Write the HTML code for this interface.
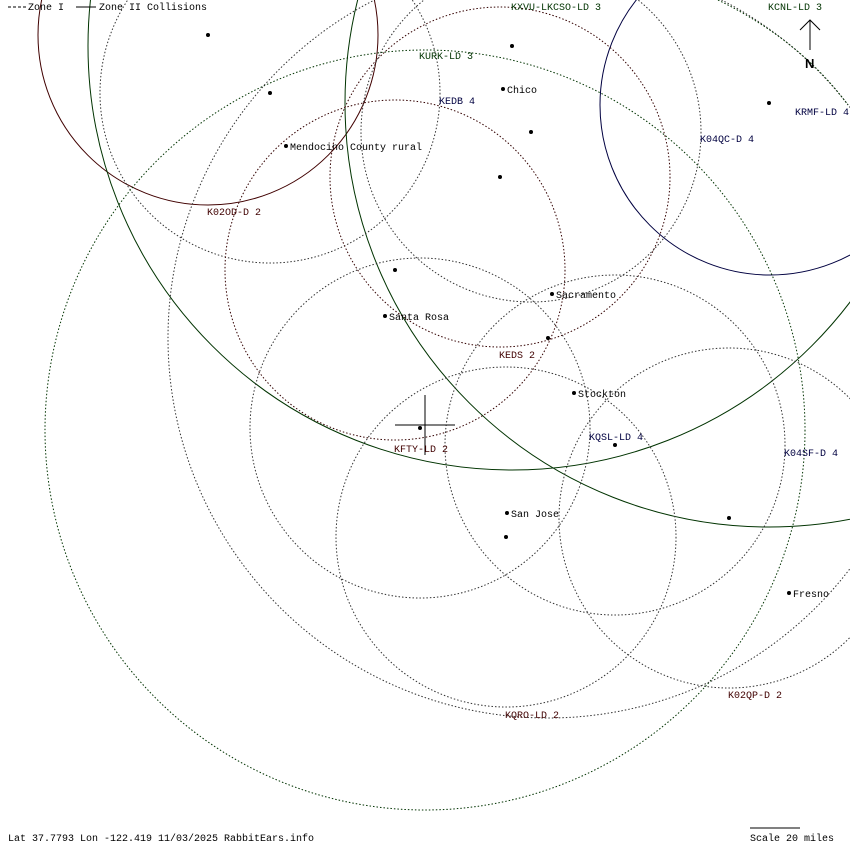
<!DOCTYPE html>
<html><head><style>body{margin:0;background:#fff;overflow:hidden}svg{display:block}text{font-family:"Liberation Mono",monospace;font-size:10px}</style></head><body>
<svg width="850" height="850" viewBox="0 0 850 850" xmlns="http://www.w3.org/2000/svg">
<g fill="none" stroke-width="1">
<circle cx="208" cy="35" r="170" stroke="#400000"/>
<circle cx="512" cy="46" r="424" stroke="#003300"/>
<circle cx="769" cy="103" r="424" stroke="#003300"/>
<circle cx="770" cy="105" r="170" stroke="#000040"/>
<g stroke-dasharray="1.5 2">
<circle cx="270" cy="93" r="170" stroke="#333"/>
<circle cx="500" cy="177" r="170" stroke="#300"/>
<circle cx="531" cy="132" r="170" stroke="#333"/>
<circle cx="395" cy="270" r="170" stroke="#300"/>
<circle cx="420" cy="428" r="170" stroke="#333"/>
<circle cx="615" cy="445" r="170" stroke="#333"/>
<circle cx="729" cy="518" r="170" stroke="#333"/>
<circle cx="506" cy="537" r="170" stroke="#333"/>
<circle cx="425" cy="430" r="380" stroke="#030"/>
<circle cx="548" cy="338" r="380" stroke="#333"/>
<path d="M718,0 Q800,40 848,105" stroke="#030"/>
</g>
</g>
<g stroke="#000">
<line x1="395" y1="425" x2="455" y2="425"/><line x1="425" y1="395" x2="425" y2="455"/>
<line x1="810" y1="20" x2="810" y2="50"/><polyline points="800,30 810,20 820,30" fill="none"/>
<line x1="750" y1="828" x2="800" y2="828"/>
<line x1="8" y1="7" x2="26" y2="7" stroke-dasharray="3 2"/><line x1="76" y1="7" x2="96" y2="7"/>
</g>
<g fill="#000">
<circle cx="208" cy="35" r="2"/><circle cx="270" cy="93" r="2"/><circle cx="512" cy="46" r="2"/>
<circle cx="531" cy="132" r="2"/><circle cx="500" cy="177" r="2"/><circle cx="395" cy="270" r="2"/>
<circle cx="548" cy="338" r="2"/><circle cx="420" cy="428" r="2"/><circle cx="615" cy="445" r="2"/>
<circle cx="506" cy="537" r="2"/><circle cx="729" cy="518" r="2"/><circle cx="769" cy="103" r="2"/>
<circle cx="503" cy="89" r="2"/><circle cx="286" cy="146" r="2"/><circle cx="552" cy="294" r="2"/>
<circle cx="385" cy="316" r="2"/><circle cx="574" cy="393" r="2"/><circle cx="507" cy="513" r="2"/><circle cx="789" cy="593" r="2"/>
<text x="28" y="10">Zone I</text><text x="99" y="10">Zone II Collisions</text>
<text x="507" y="93">Chico</text><text x="290" y="150">Mendocino County rural</text>
<text x="556" y="298">Sacramento</text><text x="389" y="320">Santa Rosa</text>
<text x="578" y="397">Stockton</text><text x="511" y="517">San Jose</text><text x="793" y="597">Fresno</text>
<text x="207" y="215" fill="#400000">K02OD-D 2</text>
<text x="419" y="59" fill="#003300">KURK-LD 3</text>
<text x="511" y="10" fill="#003300">KXVU-LKCSO-LD 3</text>
<text x="768" y="10" fill="#003300">KCNL-LD 3</text>
<text x="439" y="104" fill="#000040">KEDB 4</text>
<text x="795" y="115" fill="#000040">KRMF-LD 4</text>
<text x="700" y="142" fill="#000040">K04QC-D 4</text>
<text x="499" y="358" fill="#400000">KEDS 2</text>
<text x="394" y="452" fill="#400000">KFTY-LD 2</text>
<text x="589" y="440" fill="#000040">KQSL-LD 4</text>
<text x="784" y="456" fill="#000040">K04SF-D 4</text>
<text x="728" y="698" fill="#400000">K02QP-D 2</text>
<text x="505" y="718" fill="#400000">KQRO-LD 2</text>
<text x="8" y="841">Lat 37.7793 Lon -122.419 11/03/2025 RabbitEars.info</text>
<text x="750" y="841">Scale 20 miles</text>
<text x="805" y="68" style="font-family:'Liberation Sans',sans-serif;font-size:13px;font-weight:bold">N</text>
</g>
</svg>
</body></html>
